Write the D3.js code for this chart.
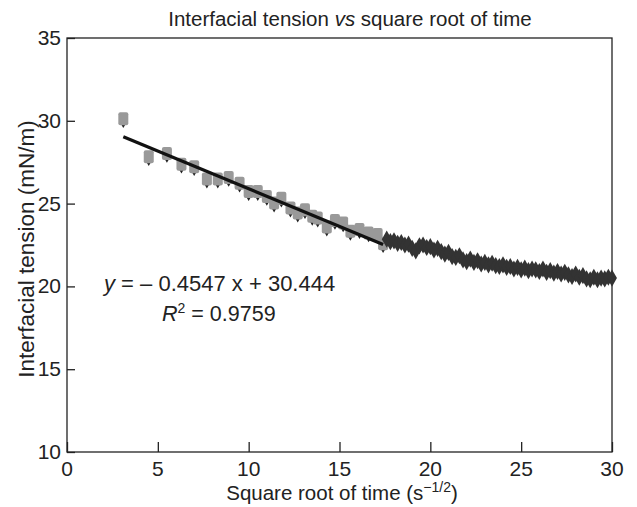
<!DOCTYPE html>
<html>
<head>
<meta charset="utf-8">
<script src="https://cdn.jsdelivr.net/npm/d3@7"></script>
<style>
  body { margin: 0; background: #fff; }
  svg { display: block; font-family: "Liberation Sans", Arial, sans-serif; }
</style>
</head>
<body>
<div id="chart"></div>
<script>
// ---- data ----
const earlyX = [3.1, 4.5, 5.5, 6.3, 7.0, 7.7, 8.3, 8.9, 9.5, 10.0, 10.5, 11.0, 11.4, 11.8, 12.3, 12.7, 13.1, 13.5, 13.8, 14.3, 14.75, 15.2, 15.6, 16.1, 16.6, 17.1, 17.4];
const earlyY = [30.1, 27.8, 28.0, 27.35, 27.2, 26.45, 26.45, 26.55, 26.2, 25.7, 25.7, 25.4, 25.0, 25.3, 24.7, 24.4, 24.6, 24.2, 24.1, 23.55, 23.95, 23.8, 23.3, 23.4, 23.2, 23.1, 22.55];
const lateX = [17.6, 17.8, 18.0, 18.2, 18.4, 18.6, 18.8, 19.0, 19.2, 19.4, 19.6, 19.8, 20.0, 20.2, 20.4, 20.6, 20.8, 21.0, 21.2, 21.4, 21.6, 21.8, 22.0, 22.2, 22.4, 22.6, 22.8, 23.0, 23.2, 23.4, 23.6, 23.8, 24.0, 24.2, 24.4, 24.6, 24.8, 25.0, 25.2, 25.4, 25.6, 25.8, 26.0, 26.2, 26.4, 26.6, 26.8, 27.0, 27.2, 27.4, 27.6, 27.8, 28.0, 28.2, 28.4, 28.6, 28.8, 29.0, 29.2, 29.4, 29.6, 29.8, 30.0];
const lateY = [22.85, 22.7, 22.75, 22.6, 22.65, 22.5, 22.55, 22.3, 22.15, 22.45, 22.5, 22.35, 22.4, 22.2, 22.3, 22.1, 21.95, 22.05, 21.8, 21.75, 21.85, 21.6, 21.5, 21.65, 21.45, 21.55, 21.35, 21.45, 21.3, 21.4, 21.25, 21.2, 21.3, 21.15, 21.2, 21.05, 21.15, 21.0, 21.1, 20.95, 21.05, 21.0, 20.9, 21.05, 20.85, 20.95, 20.8, 20.9, 20.75, 20.85, 20.7, 20.6, 20.75, 20.55, 20.65, 20.45, 20.4, 20.55, 20.4, 20.5, 20.45, 20.55, 20.5];
const fitSlope = -0.4547;
const fitIntercept = 30.444;
const fitRange = [3.1, 17.4];
const xTicks = [0, 5, 10, 15, 20, 25, 30];
const yTicks = [10, 15, 20, 25, 30, 35];

// ---- layout ----
const W = 637, H = 507;
const L = 67, R = 612, T = 38, B = 452;

const svg = d3.select("#chart").append("svg").attr("width", W).attr("height", H);
const x = d3.scaleLinear().domain([0, 30]).range([L, R]);
const y = d3.scaleLinear().domain([10, 35]).range([B, T]);

// frame
svg.append("rect").attr("x", L).attr("y", T).attr("width", R - L).attr("height", B - T)
  .attr("fill", "none").attr("stroke", "#222").attr("stroke-width", 1.3);

// axes (inward ticks)
const xAxis = svg.append("g").attr("transform", `translate(0,${B})`)
  .call(d3.axisTop(x).tickValues(xTicks).tickSize(10).tickFormat(""));
const yAxis = svg.append("g").attr("transform", `translate(${L},0)`)
  .call(d3.axisRight(y).tickValues(yTicks).tickSize(8).tickFormat(""));
[xAxis, yAxis].forEach(g => {
  g.select(".domain").remove();
  g.selectAll("line").attr("stroke", "#222").attr("stroke-width", 1.3);
});

// tick labels
svg.append("g").selectAll("text").data(xTicks).join("text")
  .attr("x", d => x(d)).attr("y", B + 24).attr("text-anchor", "middle")
  .attr("font-size", 21).attr("fill", "#222").text(d => d);
svg.append("g").selectAll("text").data(yTicks).join("text")
  .attr("x", L - 6).attr("y", d => y(d) + 7).attr("text-anchor", "end")
  .attr("font-size", 21).attr("fill", "#222").text(d => d);

// title
const title = svg.append("text").attr("x", 350).attr("y", 26).attr("text-anchor", "middle")
  .attr("font-size", 20.5).attr("fill", "#222");
title.append("tspan").text("Interfacial tension ");
title.append("tspan").attr("font-style", "italic").text("vs");
title.append("tspan").text(" square root of time");

// axis titles
const xt = svg.append("text").attr("x", 342).attr("y", 500).attr("text-anchor", "middle")
  .attr("font-size", 20.5).attr("fill", "#222");
xt.append("tspan").text("Square root of time (s");
xt.append("tspan").attr("dy", -8).attr("font-size", 14).text("\u22121/2");
xt.append("tspan").attr("dy", 8).text(")");

svg.append("text").attr("transform", `translate(34,249) rotate(-90)`)
  .attr("text-anchor", "middle").attr("font-size", 22.5).attr("fill", "#222")
  .text("Interfacial tension (mN/m)");

// early series: gray blocks with dark tip
const early = earlyX.map((v, i) => ({ x: v, y: earlyY[i] }));
const diamond = d3.symbol().type(d3.symbolDiamond);
svg.append("g").selectAll("path").data(early).join("path")
  .attr("transform", d => `translate(${x(d.x)},${y(d.y) + 3})`)
  .attr("d", diamond.size(40)).attr("fill", "#222");
svg.append("g").selectAll("rect").data(early).join("rect")
  .attr("x", d => x(d.x) - 5).attr("y", d => y(d.y) - 7)
  .attr("width", 10).attr("height", 13).attr("rx", 2)
  .attr("fill", "#999");

// late series: dark diamonds
const late = lateX.map((v, i) => ({ x: v, y: lateY[i] }));
svg.append("g").selectAll("path").data(late).join("path")
  .attr("transform", d => `translate(${x(d.x)},${y(d.y)})`)
  .attr("d", d3.symbol().type(d3.symbolDiamond).size(85)).attr("fill", "#333");

// regression line
svg.append("line")
  .attr("x1", x(fitRange[0])).attr("y1", y(fitIntercept + fitSlope * fitRange[0]))
  .attr("x2", x(fitRange[1])).attr("y2", y(fitIntercept + fitSlope * fitRange[1]))
  .attr("stroke", "#111").attr("stroke-width", 3.2);

// equation
const eq = svg.append("text").attr("x", 104).attr("y", 291).attr("font-size", 22).attr("fill", "#222");
eq.append("tspan").attr("font-style", "italic").text("y");
eq.append("tspan").text(" = \u2013 0.4547 x + 30.444");
const r2 = svg.append("text").attr("x", 162).attr("y", 321).attr("font-size", 21.5).attr("fill", "#222");
r2.append("tspan").attr("font-style", "italic").text("R");
r2.append("tspan").attr("dy", -8).attr("font-size", 14).text("2");
r2.append("tspan").attr("dy", 8).text(" = 0.9759");
</script>
</body>
</html>
